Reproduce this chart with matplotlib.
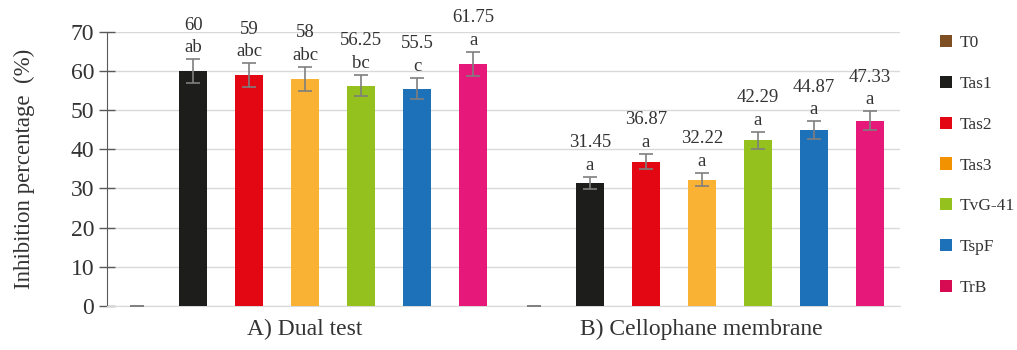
import numpy as np
import matplotlib.pyplot as plt
from matplotlib.patches import Patch

plt.rcParams['font.family'] = 'serif'
plt.rcParams['font.serif'] = ['Liberation Serif', 'DejaVu Serif']

groups = ["A) Dual test", "B) Cellophane membrane"]
treatments = ["T0", "Tas1", "Tas2", "Tas3", "TvG-41", "TspF", "TrB"]

dual_vals = [0, 60, 59, 58, 56.25, 55.5, 61.75]
dual_err = [0, 3.0, 3.0, 3.0, 2.75, 2.75, 3.1]
dual_letters = ["", "ab", "abc", "abc", "bc", "c", "a"]

cello_vals = [0, 31.45, 36.87, 32.22, 42.29, 44.87, 47.33]
cello_err = [0, 1.6, 1.9, 1.7, 2.2, 2.3, 2.4]
cello_letters = ["", "a", "a", "a", "a", "a", "a"]

bar_colors = ["#7f4f24", "#1d1d1b", "#e30613", "#f9b233", "#95c11f", "#1d71b8", "#e6197a"]
legend_colors = ["#7f4f24", "#1d1d1b", "#e30613", "#f39200", "#95c11f", "#1d71b8", "#d60b52"]

fig = plt.figure(figsize=(10.17, 3.5), dpi=100)
ax = fig.add_axes([0.105, 0.126, 0.78, 0.783])

step = 0.1412
width = 0.0706
centers = np.arange(len(groups))

for g, (vals, errs, letters) in enumerate([(dual_vals, dual_err, dual_letters),
                                           (cello_vals, cello_err, cello_letters)]):
    for i, (v, e, lt) in enumerate(zip(vals, errs, letters)):
        x = centers[g] + (i - 3) * step
        ax.bar(x, v, width, color=bar_colors[i], zorder=3)
        ax.errorbar(x, v, yerr=e, fmt="none", ecolor="#7f7f7f", elinewidth=1.2,
                    capsize=5, capthick=1.2, zorder=4)
        if i > 0:
            ax.annotate(f"{v:g}\n{lt}", (x, v + e), xytext=(0, 2),
                        textcoords="offset points", ha="center", va="bottom",
                        fontsize=13.5, color="#333333", linespacing=1.45)

ax.set_xlim(-0.5, 1.5)
ax.set_ylim(0, 70)
ax.set_yticks(range(0, 71, 10))
ax.set_xticks(centers)
ax.set_xticklabels(groups, fontsize=17, color="#333333")
ax.tick_params(axis="x", length=0, pad=9)
ax.tick_params(axis="y", direction="inout", length=12, width=1, color="#595959",
               labelsize=17, labelcolor="#333333", pad=3)
ax.set_ylabel("Inhibition percentage  (%)", fontsize=16.5, color="#333333", labelpad=26)

ax.yaxis.grid(True, color="#d9d9d9", linewidth=1, zorder=0)
ax.set_axisbelow(True)
for s in ["top", "right"]:
    ax.spines[s].set_visible(False)
ax.spines["bottom"].set_color("#d9d9d9")
ax.spines["left"].set_color("#595959")

handles = [Patch(facecolor=c, edgecolor="none") for c in legend_colors]
fig.legend(handles, treatments, loc="upper left", bbox_to_anchor=(0.917, 0.92),
           frameon=False, fontsize=12.5, labelspacing=1.42, handlelength=0.7,
           handleheight=0.7, handletextpad=0.45, borderaxespad=0, labelcolor="#333333")

fig.savefig("out.png", dpi=100)
